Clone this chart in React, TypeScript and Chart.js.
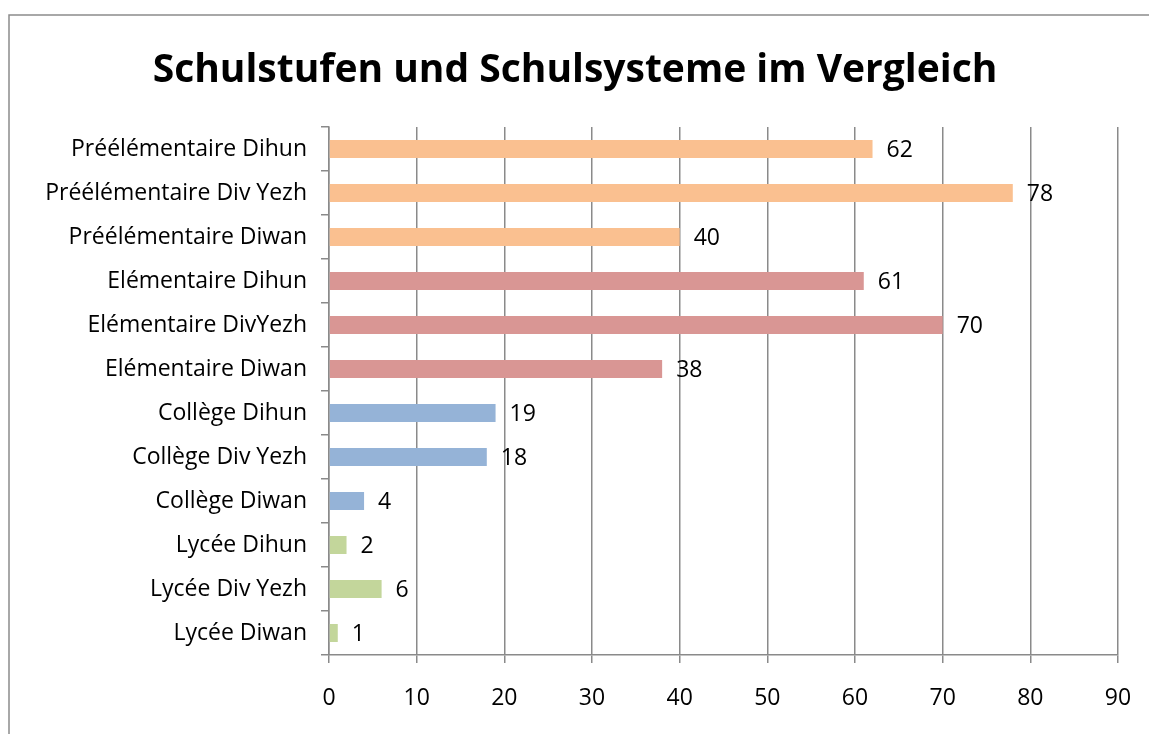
import React, { useEffect, useRef } from "react";
import { Chart, registerables } from "chart.js";

Chart.register(...registerables);

const categories = [
  "Préélémentaire Dihun",
  "Préélémentaire Div Yezh",
  "Préélémentaire Diwan",
  "Elémentaire Dihun",
  "Elémentaire DivYezh",
  "Elémentaire Diwan",
  "Collège Dihun",
  "Collège Div Yezh",
  "Collège Diwan",
  "Lycée Dihun",
  "Lycée Div Yezh",
  "Lycée Diwan",
];
const values = [62, 78, 40, 61, 70, 38, 19, 18, 4, 2, 6, 1];
const barColors = [
  "#FAC090", "#FAC090", "#FAC090",
  "#D99694", "#D99694", "#D99694",
  "#95B3D7", "#95B3D7", "#95B3D7",
  "#C3D69B", "#C3D69B", "#C3D69B",
];
const title = "Schulstufen und Schulsysteme im Vergleich";
const FONT = "'Open Sans', 'Liberation Sans', sans-serif";

const decorPlugin = {
  id: "decor",
  beforeDraw(chart: any) {
    const ctx = chart.ctx;
    ctx.save();
    ctx.fillStyle = "#ffffff";
    ctx.fillRect(0, 0, chart.width, chart.height);
    ctx.strokeStyle = "#8c8c8c";
    ctx.lineWidth = 1.5;
    ctx.beginPath();
    ctx.moveTo(9, chart.height);
    ctx.lineTo(9, 15);
    ctx.lineTo(chart.width, 15);
    ctx.stroke();
    ctx.restore();
  },
  afterDraw(chart: any) {
    const ctx = chart.ctx;
    ctx.save();
    ctx.fillStyle = "#000000";
    ctx.textAlign = "center";
    ctx.textBaseline = "alphabetic";
    ctx.font = `bold 39px ${FONT}`;
    ctx.fillText(title, 575, 82);
    ctx.font = `23px ${FONT}`;
    ctx.textAlign = "left";
    ctx.textBaseline = "middle";
    const meta = chart.getDatasetMeta(0);
    meta.data.forEach((el: any, i: number) => {
      ctx.fillText(String(values[i]), el.x + 14, el.y + 1);
    });
    ctx.restore();
  },
};

export default function App() {
  const ref = useRef<HTMLCanvasElement | null>(null);
  useEffect(() => {
    document.body.style.margin = "0";
    const chart = new Chart(ref.current!, {
      type: "bar",
      data: {
        labels: categories,
        datasets: [
          {
            data: values,
            backgroundColor: barColors,
            categoryPercentage: 1,
            barPercentage: 0.41,
          },
        ],
      },
      plugins: [decorPlugin],
      options: {
        indexAxis: "y",
        animation: false,
        responsive: false,
        layout: { padding: { left: 0, right: 31, top: 127, bottom: 0 } },
        plugins: { legend: { display: false }, tooltip: { enabled: false }, title: { display: false } },
        scales: {
          x: {
            min: 0,
            max: 90,
            ticks: { stepSize: 10, color: "#000", font: { size: 23, family: FONT }, padding: 22 },
            grid: { color: "#8a8a8a", lineWidth: 1.5, tickLength: 8, drawOnChartArea: true },
            border: { color: "#8a8a8a", width: 1.5 },
            afterFit: (s: any) => {
              s.height = 79;
              s.paddingRight = 0;
              s.paddingLeft = 0;
            },
          },
          y: {
            ticks: { color: "#000", font: { size: 23, family: FONT }, padding: 14, autoSkip: false },
            grid: { color: "#8a8a8a", lineWidth: 1.5, tickLength: 8, drawOnChartArea: false, offset: true },
            border: { color: "#8a8a8a", width: 1.5 },
            afterFit: (s: any) => {
              s.width = 329;
              s.paddingTop = 0;
              s.paddingBottom = 0;
            },
          },
        },
      },
    });
    return () => chart.destroy();
  }, []);
  return (
    <div style={{ position: "absolute", left: 0, top: 0, width: 1149, height: 734 }}>
      <canvas ref={ref} width={1149} height={734} style={{ width: 1149, height: 734 }} />
    </div>
  );
}
